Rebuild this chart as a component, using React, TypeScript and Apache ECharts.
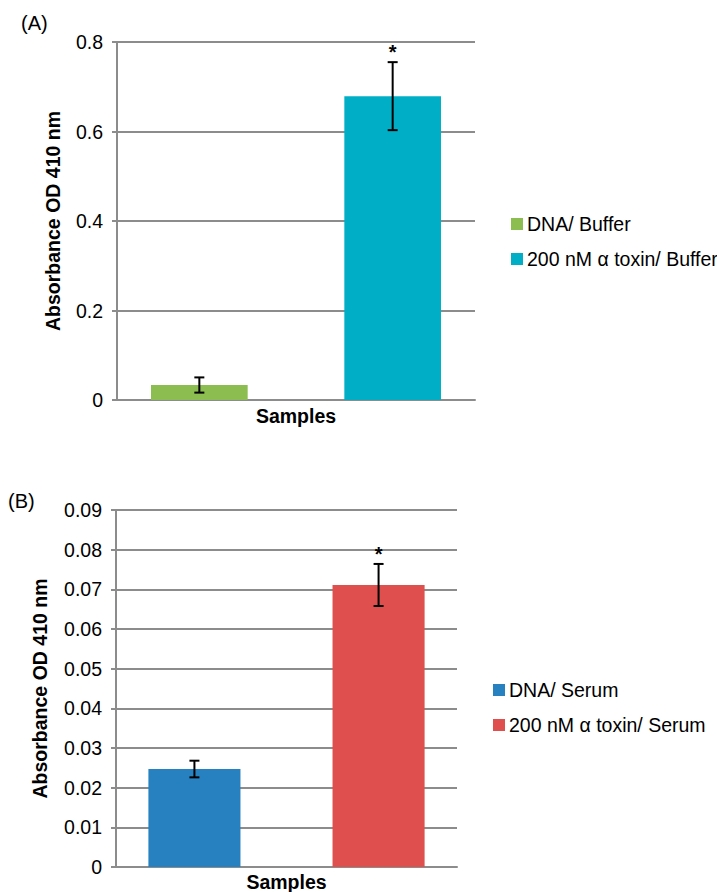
import React, { useEffect, useRef } from "react";
import * as echarts from "echarts";

// ---- Data ----
const categories = ["Samples"];

const panelASeriesNames = ["DNA/ Buffer", "200 nM α toxin/ Buffer"];
const panelAValues = [0.0335, 0.679];
const panelAErrors = [0.017, 0.076];
const panelASignificant = [false, true];

const panelBSeriesNames = ["DNA/ Serum", "200 nM α toxin/ Serum"];
const panelBValues = [0.0247, 0.0711];
const panelBErrors = [0.0021, 0.0053];
const panelBSignificant = [false, true];

const panelAColors = ["#8CBD50", "#00AFC6"];
const panelBColors = ["#2781C1", "#DE4F4E"];

const FONT = "Liberation Sans, Arial, sans-serif";
const GRID_GRAY = "#8C8C8C";
const BAR_FRAC = 0.27;

function makeErrorSeries(
  idx: number,
  values: number[],
  errors: number[],
  sig: boolean[]
) {
  const data = values.map((v, i) => [0, v, errors[i], sig[i] ? 1 : 0, i]);
  return {
    type: "custom",
    xAxisIndex: idx,
    yAxisIndex: idx,
    silent: true,
    z: 10,
    data,
    renderItem: (params: any, api: any) => {
      const v = api.value(1);
      const e = api.value(2);
      const s = api.value(3);
      const i = api.value(4);
      const band = api.size([1, 0])[0];
      const offset = (i === 0 ? -1 : 1) * BAR_FRAC * band;
      const top = api.coord([0, v + e]);
      const bot = api.coord([0, v - e]);
      const x = top[0] + offset;
      const cap = 5;
      const style = { stroke: "#000", lineWidth: 2 };
      const children: any[] = [
        { type: "line", shape: { x1: x, y1: top[1], x2: x, y2: bot[1] }, style },
        { type: "line", shape: { x1: x - cap, y1: top[1], x2: x + cap, y2: top[1] }, style },
        { type: "line", shape: { x1: x - cap, y1: bot[1], x2: x + cap, y2: bot[1] }, style },
      ];
      if (s) {
        children.push({
          type: "text",
          x: x,
          y: top[1],
          style: {
            text: "*",
            fill: "#000",
            font: `bold 20px ${FONT}`,
            align: "center",
            verticalAlign: "bottom",
          },
        });
      }
      return { type: "group", children };
    },
  };
}

export default function App() {
  const ref = useRef<HTMLDivElement>(null);

  useEffect(() => {
    if (!ref.current) return;
    const chart = echarts.init(ref.current, undefined, { renderer: "svg" });

    const yAxisCommon = (min: number, max: number, interval: number, digits: number, nameGap: number) => ({
      type: "value",
      min,
      max,
      interval,
      name: "Absorbance OD 410 nm",
      nameLocation: "middle",
      nameGap,
      nameTextStyle: { fontFamily: FONT, fontSize: 19.5, fontWeight: "bold", color: "#000" },
      axisLine: { show: true, lineStyle: { color: GRID_GRAY, width: 2 } },
      axisTick: { show: true, length: 5, lineStyle: { color: GRID_GRAY, width: 2 } },
      axisLabel: {
        fontFamily: FONT,
        fontSize: 19.5,
        color: "#000",
        margin: 14,
        formatter: (v: number) => (v === 0 ? "0" : v.toFixed(digits)),
      },
      splitLine: { show: true, lineStyle: { color: GRID_GRAY, width: 2 } },
    });

    const xAxisCommon = (idx: number, margin: number) => ({
      type: "category",
      gridIndex: idx,
      data: categories,
      axisLine: { show: true, lineStyle: { color: GRID_GRAY, width: 2 } },
      axisTick: { show: false },
      axisLabel: {
        fontFamily: FONT,
        fontSize: 19.5,
        fontWeight: "bold",
        color: "#000",
        margin,
      },
    });

    const barSeries = (idx: number, names: string[], values: number[], colors: string[]) =>
      names.map((n, i) => ({
        type: "bar",
        name: n,
        xAxisIndex: idx,
        yAxisIndex: idx,
        data: [values[i]],
        barWidth: `${BAR_FRAC * 100}%`,
        barGap: "100%",
        itemStyle: { color: colors[i] },
      }));

    const legendCommon = (names: string[], colors: string[], left: number, top: number) => ({
      data: names.map((n, i) => ({ name: n, itemStyle: { color: colors[i] } })),
      orient: "vertical",
      left,
      top,
      icon: "rect",
      itemWidth: 12,
      itemHeight: 12,
      itemGap: 15,
      textStyle: { fontFamily: FONT, fontSize: 19.5, color: "#000", padding: [0, 0, 0, -1] },
      selectedMode: false,
    });

    chart.setOption({
      animation: false,
      backgroundColor: "#fff",
      grid: [
        { left: 117, top: 42, width: 358, height: 358, containLabel: false },
        { left: 116, top: 510, width: 341, height: 358, containLabel: false },
      ],
      xAxis: [xAxisCommon(0, 6), xAxisCommon(1, 5)],
      yAxis: [
        { ...yAxisCommon(0, 0.8, 0.2, 1, 54), gridIndex: 0 },
        { ...yAxisCommon(0, 0.09, 0.01, 2, 66), gridIndex: 1 },
      ],
      legend: [
        legendCommon(panelASeriesNames, panelAColors, 506, 209),
        legendCommon(panelBSeriesNames, panelBColors, 488, 675),
      ],
      graphic: [
        {
          type: "text",
          left: 21,
          top: 13,
          style: { text: "(A)", font: `20px ${FONT}`, fill: "#000" },
        },
        {
          type: "text",
          left: 8,
          top: 491,
          style: { text: "(B)", font: `20px ${FONT}`, fill: "#000" },
        },
      ],
      series: [
        ...barSeries(0, panelASeriesNames, panelAValues, panelAColors),
        makeErrorSeries(0, panelAValues, panelAErrors, panelASignificant),
        ...barSeries(1, panelBSeriesNames, panelBValues, panelBColors),
        makeErrorSeries(1, panelBValues, panelBErrors, panelBSignificant),
      ],
    });

    return () => chart.dispose();
  }, []);

  return (
    <div
      ref={ref}
      style={{ position: "fixed", left: 0, top: 0, width: 717, height: 892, background: "#fff" }}
    />
  );
}
